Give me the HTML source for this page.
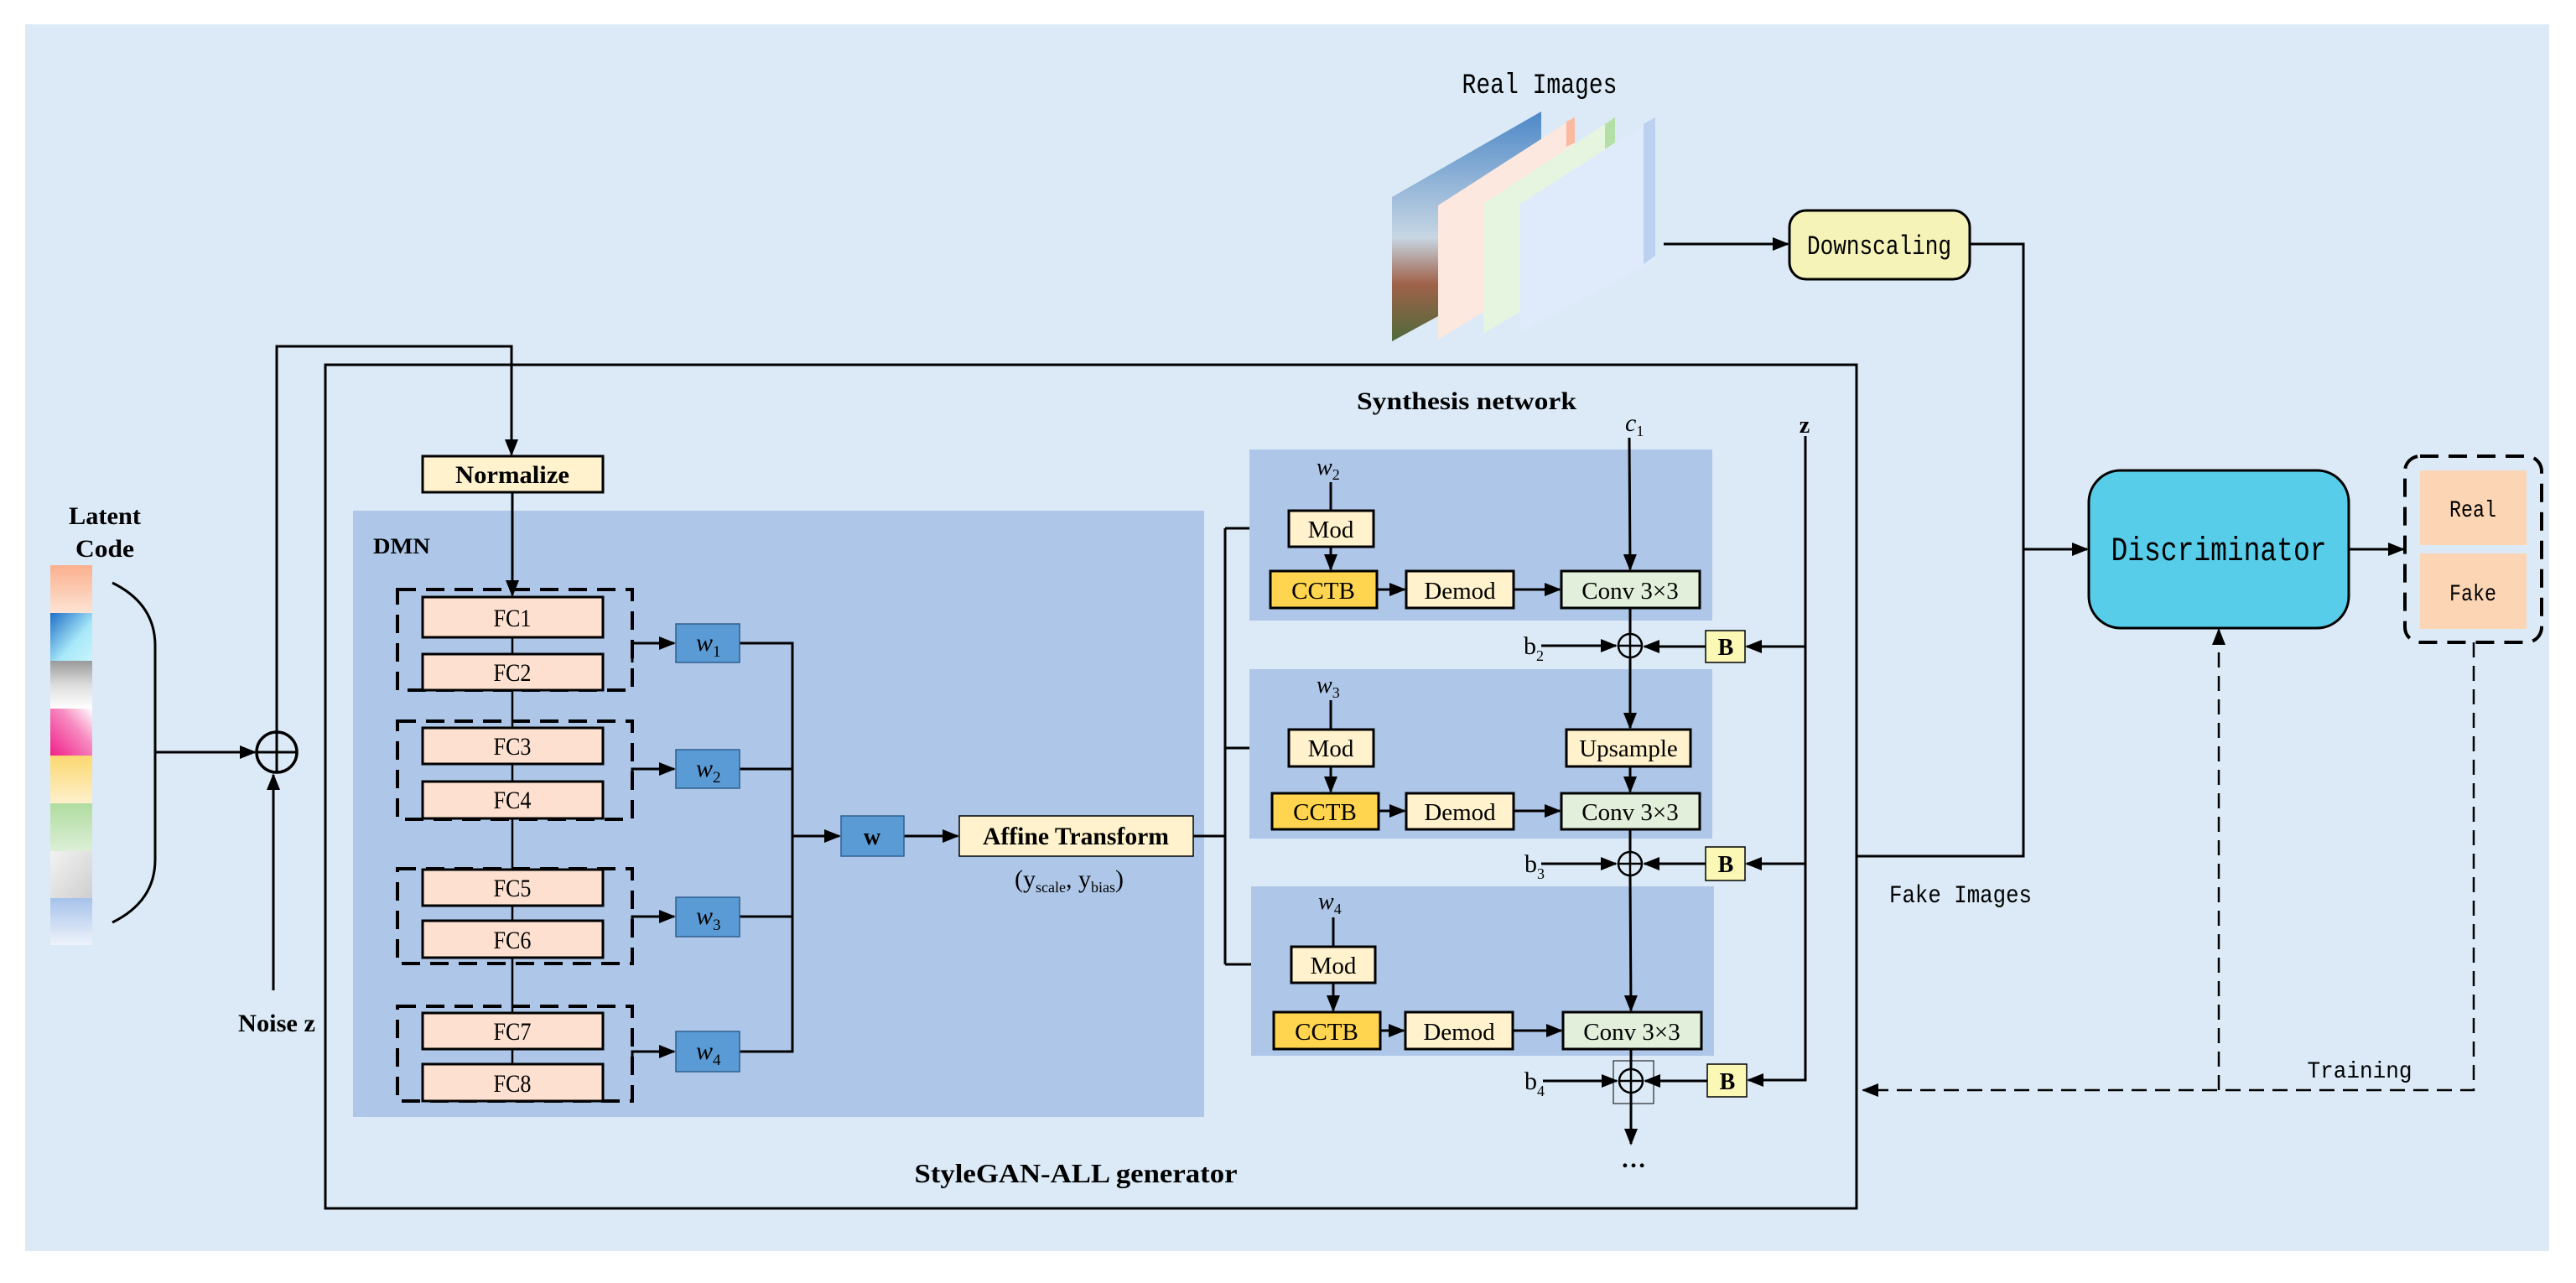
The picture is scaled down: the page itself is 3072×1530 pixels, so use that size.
<!DOCTYPE html>
<html><head><meta charset="utf-8"><style>
html,body{margin:0;padding:0;background:#fff;}
svg{display:block;}
text{font-family:"Liberation Serif",serif;}
.m{font-family:"Liberation Mono",monospace;}
</style></head><body>
<svg width="3072" height="1530" viewBox="0 0 3072 1530" xmlns="http://www.w3.org/2000/svg">
<defs>
<marker id="a" markerWidth="10" markerHeight="10" refX="9" refY="5" orient="auto" markerUnits="userSpaceOnUse" viewBox="0 0 10 10"><path d="M0,0 L10,5 L0,10 z" fill="#000"/></marker>
<marker id="A" markerWidth="20" markerHeight="20" refX="18" refY="10" orient="auto" markerUnits="userSpaceOnUse" viewBox="0 0 20 20"><path d="M0,2 L20,10 L0,18 z" fill="#000"/></marker>
<linearGradient id="g1" x1="0" y1="0" x2="0" y2="1"><stop offset="0" stop-color="#fbb08e"/><stop offset="1" stop-color="#fde3d3"/></linearGradient>
<linearGradient id="g2" x1="0" y1="0" x2="1" y2="1"><stop offset="0" stop-color="#1f6fc8"/><stop offset=".6" stop-color="#a8e8f8"/><stop offset="1" stop-color="#c8f4fc"/></linearGradient>
<linearGradient id="g3" x1="0" y1="0" x2="0" y2="1"><stop offset="0" stop-color="#9a9a9a"/><stop offset=".5" stop-color="#dcdcdc"/><stop offset="1" stop-color="#fff"/></linearGradient>
<linearGradient id="g4" x1="0" y1="1" x2="1" y2="0"><stop offset="0" stop-color="#f0208a"/><stop offset=".6" stop-color="#f78ac0"/><stop offset="1" stop-color="#fff"/></linearGradient>
<linearGradient id="g5" x1="0" y1="0" x2="0" y2="1"><stop offset="0" stop-color="#fcd870"/><stop offset="1" stop-color="#fdf0cc"/></linearGradient>
<linearGradient id="g6" x1="0" y1="0" x2="0" y2="1"><stop offset="0" stop-color="#b0dca0"/><stop offset="1" stop-color="#dcefd6"/></linearGradient>
<linearGradient id="g7" x1="0" y1="0" x2="1" y2="1"><stop offset="0" stop-color="#f2f2f2"/><stop offset="1" stop-color="#cfcfcf"/></linearGradient>
<linearGradient id="g8" x1="0" y1="0" x2="0" y2="1"><stop offset="0" stop-color="#a6c2ea"/><stop offset="1" stop-color="#eef3fb"/></linearGradient>
<linearGradient id="sky" x1="0" y1="0" x2="0" y2="1"><stop offset="0" stop-color="#4d88c8"/><stop offset=".55" stop-color="#c7d6e3"/><stop offset=".75" stop-color="#a0624a"/><stop offset="1" stop-color="#4e6a3a"/></linearGradient>
</defs>
<rect x="30" y="29" width="3010" height="1463" fill="#dbeaf6"/>

<!-- latent strip -->
<rect x="60" y="674" width="50" height="57" fill="url(#g1)"/>
<rect x="60" y="731" width="50" height="57" fill="url(#g2)"/>
<rect x="60" y="788" width="50" height="57" fill="url(#g3)"/>
<rect x="60" y="845" width="50" height="56" fill="url(#g4)"/>
<rect x="60" y="901" width="50" height="57" fill="url(#g5)"/>
<rect x="60" y="958" width="50" height="57" fill="url(#g6)"/>
<rect x="60" y="1015" width="50" height="56" fill="url(#g7)"/>
<rect x="60" y="1071" width="50" height="56" fill="url(#g8)"/>
<text x="125" y="625" font-size="30" font-weight="bold" text-anchor="middle" textLength="86" lengthAdjust="spacingAndGlyphs">Latent</text>
<text x="125" y="664" font-size="30" font-weight="bold" text-anchor="middle" textLength="70" lengthAdjust="spacingAndGlyphs">Code</text>
<path d="M134,695 Q185,720 185,770 V1025 Q185,1075 134,1100" fill="none" stroke="#000" stroke-width="3"/>
<line x1="185" y1="897" x2="304" y2="897" stroke="#000" stroke-width="3" marker-end="url(#A)"/>
<circle cx="330" cy="897" r="24" fill="none" stroke="#000" stroke-width="3.5"/>
<line x1="306" y1="897" x2="354" y2="897" stroke="#000" stroke-width="3"/>
<line x1="330" y1="873" x2="330" y2="921" stroke="#000" stroke-width="3"/>
<line x1="326" y1="1181" x2="326" y2="924" stroke="#000" stroke-width="3" marker-end="url(#A)"/>
<text x="330" y="1230" font-size="30" font-weight="bold" text-anchor="middle" textLength="92" lengthAdjust="spacingAndGlyphs">Noise z</text>
<path d="M330,873 V413 H610 V542" fill="none" stroke="#000" stroke-width="3" marker-end="url(#A)"/>

<!-- generator box -->
<rect x="388" y="435" width="1826" height="1006" fill="none" stroke="#000" stroke-width="3"/>
<text x="1283" y="1410" font-size="32" font-weight="bold" text-anchor="middle" textLength="385" lengthAdjust="spacingAndGlyphs">StyleGAN-ALL  generator</text>

<rect x="504" y="544" width="215" height="43" fill="#fff2cc" stroke="#000" stroke-width="3"/>
<text x="611" y="576" font-size="30" font-weight="bold" text-anchor="middle" textLength="136" lengthAdjust="spacingAndGlyphs">Normalize</text>

<!-- DMN -->
<rect x="421" y="609" width="1015" height="723" fill="#aec6e8"/>
<text x="445" y="660" font-size="26" font-weight="bold" textLength="68" lengthAdjust="spacingAndGlyphs">DMN</text>
<line x1="611" y1="587" x2="611" y2="710" stroke="#000" stroke-width="3" marker-end="url(#A)"/>
<line x1="611" y1="760" x2="611" y2="1269" stroke="#000" stroke-width="2.5"/>

<g stroke="#000" stroke-width="4" stroke-dasharray="22,12" fill="none">
<rect x="474" y="703" width="280" height="120"/>
<rect x="474" y="860" width="280" height="117"/>
<rect x="474" y="1036" width="280" height="113"/>
<rect x="474" y="1200" width="280" height="113"/>
</g>
<g stroke="#000" stroke-width="3" fill="#fde0d0">
<rect x="504" y="712" width="215" height="48"/>
<rect x="504" y="780" width="215" height="43"/>
<rect x="504" y="868" width="215" height="43"/>
<rect x="504" y="932" width="215" height="44"/>
<rect x="504" y="1037" width="215" height="43"/>
<rect x="504" y="1098" width="215" height="44"/>
<rect x="504" y="1208" width="215" height="43"/>
<rect x="504" y="1269" width="215" height="44"/>
</g>
<g font-size="30" text-anchor="middle">
<text x="611" y="747" textLength="45" lengthAdjust="spacingAndGlyphs">FC1</text>
<text x="611" y="812" textLength="45" lengthAdjust="spacingAndGlyphs">FC2</text>
<text x="611" y="900" textLength="45" lengthAdjust="spacingAndGlyphs">FC3</text>
<text x="611" y="964" textLength="45" lengthAdjust="spacingAndGlyphs">FC4</text>
<text x="611" y="1069" textLength="45" lengthAdjust="spacingAndGlyphs">FC5</text>
<text x="611" y="1131" textLength="45" lengthAdjust="spacingAndGlyphs">FC6</text>
<text x="611" y="1240" textLength="45" lengthAdjust="spacingAndGlyphs">FC7</text>
<text x="611" y="1302" textLength="45" lengthAdjust="spacingAndGlyphs">FC8</text>
</g>
<g stroke="#000" stroke-width="3" fill="none">
<path d="M754,790 V767 H804" marker-end="url(#A)"/>
<path d="M754,935 V917 H804" marker-end="url(#A)"/>
<path d="M754,1110 V1093 H804" marker-end="url(#A)"/>
<path d="M754,1270 V1254 H804" marker-end="url(#A)"/>
<path d="M882,767 H945 V1254 H882 M882,917 H945 M882,1093 H945"/>
<path d="M945,997 H1001" marker-end="url(#A)"/>
<path d="M1078,997 H1142" marker-end="url(#A)"/>
<path d="M1423,997 H1461"/>
<path d="M1461,630 V1150"/>
<path d="M1461,630 H1535" marker-end="url(#A)"/>
<path d="M1461,892 H1535" marker-end="url(#A)"/>
<path d="M1461,1150 H1538" marker-end="url(#A)"/>
</g>
<g fill="#5b9bd5" stroke="#2e5f8e" stroke-width="1.5">
<rect x="806" y="744" width="76" height="46"/>
<rect x="806" y="894" width="76" height="46"/>
<rect x="806" y="1070" width="76" height="47"/>
<rect x="806" y="1230" width="76" height="48"/>
<rect x="1003" y="973" width="75" height="48"/>
</g>
<g font-size="30" font-style="italic">
<text x="830" y="776">w<tspan font-size="19" font-style="normal" dy="7">1</tspan></text>
<text x="830" y="926">w<tspan font-size="19" font-style="normal" dy="7">2</tspan></text>
<text x="830" y="1102">w<tspan font-size="19" font-style="normal" dy="7">3</tspan></text>
<text x="830" y="1263">w<tspan font-size="19" font-style="normal" dy="7">4</tspan></text>
</g>
<text x="1040" y="1007" font-size="28" font-weight="bold" text-anchor="middle">w</text>
<rect x="1144" y="973" width="279" height="48" fill="#fff2cc" stroke="#000" stroke-width="1.5"/>
<text x="1283" y="1007" font-size="30" font-weight="bold" text-anchor="middle" textLength="222" lengthAdjust="spacingAndGlyphs">Affine Transform</text>
<text x="1275" y="1058" font-size="30" text-anchor="middle">(y<tspan font-size="18" dy="6">scale</tspan><tspan dy="-6">, y</tspan><tspan font-size="18" dy="6">bias</tspan><tspan dy="-6">)</tspan></text>

<!-- synthesis -->
<text x="1749" y="488" font-size="30" font-weight="bold" text-anchor="middle" textLength="262" lengthAdjust="spacingAndGlyphs">Synthesis network</text>
<text x="1938" y="514" font-size="30" font-style="italic">c<tspan font-size="18" font-style="normal" dy="6">1</tspan></text>
<text x="2152" y="516" font-size="28" font-weight="bold" text-anchor="middle">z</text>
<rect x="1490" y="536" width="552" height="204" fill="#aec6e8"/>
<rect x="1490" y="798" width="552" height="202" fill="#aec6e8"/>
<rect x="1492" y="1057" width="552" height="202" fill="#aec6e8"/>

<g stroke="#000" stroke-width="3" fill="#fff2cc">
<rect x="1537" y="609" width="101" height="43"/>
<rect x="1537" y="870" width="101" height="44"/>
<rect x="1540" y="1129" width="100" height="43"/>
<rect x="1677" y="681" width="128" height="44"/>
<rect x="1677" y="946" width="128" height="43"/>
<rect x="1676" y="1207" width="128" height="44"/>
<rect x="1868" y="870" width="148" height="44"/>
</g>
<g stroke="#000" stroke-width="3" fill="#ffd54f">
<rect x="1515" y="681" width="127" height="44"/>
<rect x="1517" y="946" width="127" height="43"/>
<rect x="1519" y="1207" width="127" height="44"/>
</g>
<g stroke="#000" stroke-width="3" fill="#e2efda">
<rect x="1862" y="681" width="165" height="44"/>
<rect x="1862" y="946" width="165" height="43"/>
<rect x="1864" y="1207" width="165" height="44"/>
</g>
<g stroke="#000" stroke-width="1.5" fill="#fbf7b5">
<rect x="2034" y="752" width="47" height="38"/>
<rect x="2034" y="1010" width="47" height="40"/>
<rect x="2036" y="1269" width="47" height="39"/>
</g>
<g font-size="29" text-anchor="middle">
<text x="1587" y="641">Mod</text><text x="1587" y="902">Mod</text><text x="1590" y="1161">Mod</text>
<text x="1578" y="714">CCTB</text><text x="1580" y="978">CCTB</text><text x="1582" y="1240">CCTB</text>
<text x="1741" y="714">Demod</text><text x="1741" y="978">Demod</text><text x="1740" y="1240">Demod</text>
<text x="1944" y="714">Conv 3×3</text><text x="1944" y="978">Conv 3×3</text><text x="1946" y="1240">Conv 3×3</text>
<text x="1942" y="902">Upsample</text>
</g>
<g font-size="28" font-weight="bold" text-anchor="middle">
<text x="2058" y="781">B</text><text x="2058" y="1040">B</text><text x="2060" y="1299">B</text>
</g>
<g font-size="28" font-style="italic">
<text x="1570" y="566">w<tspan font-size="18" font-style="normal" dy="6">2</tspan></text>
<text x="1570" y="826">w<tspan font-size="18" font-style="normal" dy="6">3</tspan></text>
<text x="1572" y="1084">w<tspan font-size="18" font-style="normal" dy="6">4</tspan></text>
</g>
<g font-size="30">
<text x="1817" y="780">b<tspan font-size="18" dy="8">2</tspan></text>
<text x="1818" y="1040">b<tspan font-size="18" dy="8">3</tspan></text>
<text x="1818" y="1299">b<tspan font-size="18" dy="8">4</tspan></text>
</g>
<g stroke="#000" stroke-width="3" fill="none">
<path d="M1587,575 V609 M1587,835 V870 M1590,1094 V1129"/>
<path d="M1587,652 V679" marker-end="url(#A)"/>
<path d="M1587,914 V944" marker-end="url(#A)"/>
<path d="M1590,1172 V1205" marker-end="url(#A)"/>
<path d="M1642,703 H1675" marker-end="url(#A)"/>
<path d="M1644,967 H1675" marker-end="url(#A)"/>
<path d="M1646,1229 H1674" marker-end="url(#A)"/>
<path d="M1805,703 H1860" marker-end="url(#A)"/>
<path d="M1805,967 H1860" marker-end="url(#A)"/>
<path d="M1804,1229 H1862" marker-end="url(#A)"/>
<path d="M1943,522 L1944,679" marker-end="url(#A)"/>
<path d="M1944,725 V755 M1944,989 V1015 M1945,1251 V1274"/>
<path d="M1944,785 V868" marker-end="url(#A)"/>
<path d="M1944,914 V944" marker-end="url(#A)"/>
<path d="M1944,1045 L1945,1205" marker-end="url(#A)"/>
<path d="M1945,1304 V1364" marker-end="url(#A)"/>
<path d="M1838,770 H1927" marker-end="url(#A)"/>
<path d="M1838,1030 H1927" marker-end="url(#A)"/>
<path d="M1840,1289 H1928" marker-end="url(#A)"/>
<path d="M2034,771 H1961" marker-end="url(#A)"/>
<path d="M2034,1030 H1961" marker-end="url(#A)"/>
<path d="M2036,1289 H1962" marker-end="url(#A)"/>
<path d="M2153,520 V1288 H2085" marker-end="url(#A)"/>
<path d="M2153,771 H2083" marker-end="url(#A)"/>
<path d="M2153,1030 H2083" marker-end="url(#A)"/>
</g>
<g fill="none" stroke="#000" stroke-width="2.5">
<circle cx="1944" cy="770" r="14"/><path d="M1930,770 H1958 M1944,756 V784"/>
<circle cx="1944" cy="1030" r="14"/><path d="M1930,1030 H1958 M1944,1016 V1044"/>
<circle cx="1945" cy="1289" r="14"/><path d="M1931,1289 H1959 M1945,1275 V1303"/>
<rect x="1924" y="1265" width="48" height="51" stroke-width="1"/>
</g>
<text x="1948" y="1392" font-size="30" font-weight="bold" text-anchor="middle">…</text>

<!-- real images -->
<text class="m" x="1836" y="111" font-size="34" text-anchor="middle" textLength="185" lengthAdjust="spacingAndGlyphs">Real Images</text>
<polygon points="1660,235 1838,133 1838,310 1660,407" fill="url(#sky)"/>
<polygon points="1715,245 1878,140 1878,305 1715,405" fill="#fde8df"/>
<polygon points="1868,145 1878,140 1878,170 1868,175" fill="#fbb9a0"/>
<polygon points="1769,243 1926,140 1926,303 1769,398" fill="#e6f5e0"/>
<polygon points="1914,148 1926,140 1926,170 1914,178" fill="#b4e0a8"/>
<polygon points="1813,243 1974,140 1974,310 1813,397" fill="#dfeafb"/>
<polygon points="1960,148 1974,140 1974,305 1960,315" fill="#bcd0f0"/>
<line x1="1984" y1="291" x2="2132" y2="291" stroke="#000" stroke-width="3" marker-end="url(#A)"/>
<rect x="2134" y="251" width="215" height="82" rx="20" fill="#f5f3b8" stroke="#000" stroke-width="3"/>
<text class="m" x="2241" y="303" font-size="32" text-anchor="middle" textLength="172" lengthAdjust="spacingAndGlyphs">Downscaling</text>
<path d="M2349,291 H2413 V1021 H2214" fill="none" stroke="#000" stroke-width="3"/>
<path d="M2413,655 H2489" fill="none" stroke="#000" stroke-width="3" marker-end="url(#A)"/>
<text class="m" x="2338" y="1076" font-size="30" text-anchor="middle" textLength="170" lengthAdjust="spacingAndGlyphs">Fake Images</text>

<rect x="2491" y="561" width="310" height="188" rx="38" fill="#57cde9" stroke="#000" stroke-width="3"/>
<text class="m" x="2646" y="668" font-size="40" text-anchor="middle" textLength="257" lengthAdjust="spacingAndGlyphs">Discriminator</text>
<path d="M2801,655 H2866" fill="none" stroke="#000" stroke-width="3" marker-end="url(#A)"/>
<rect x="2868" y="544" width="163" height="222" rx="18" fill="none" stroke="#000" stroke-width="4" stroke-dasharray="22,12"/>
<rect x="2886" y="561" width="127" height="89" fill="#fcd5b5"/>
<rect x="2886" y="660" width="127" height="90" fill="#fcd5b5"/>
<text class="m" x="2949" y="616" font-size="28" text-anchor="middle" textLength="56" lengthAdjust="spacingAndGlyphs">Real</text>
<text class="m" x="2949" y="716" font-size="28" text-anchor="middle" textLength="56" lengthAdjust="spacingAndGlyphs">Fake</text>
<g fill="none" stroke="#000" stroke-width="2.5" stroke-dasharray="18,10">
<path d="M2950,766 V1300 H2222" marker-end="url(#A)"/>
<path d="M2646,1300 V751" marker-end="url(#A)"/>
</g>
<text class="m" x="2814" y="1285" font-size="28" text-anchor="middle" textLength="125" lengthAdjust="spacingAndGlyphs">Training</text>
</svg>
</body></html>
